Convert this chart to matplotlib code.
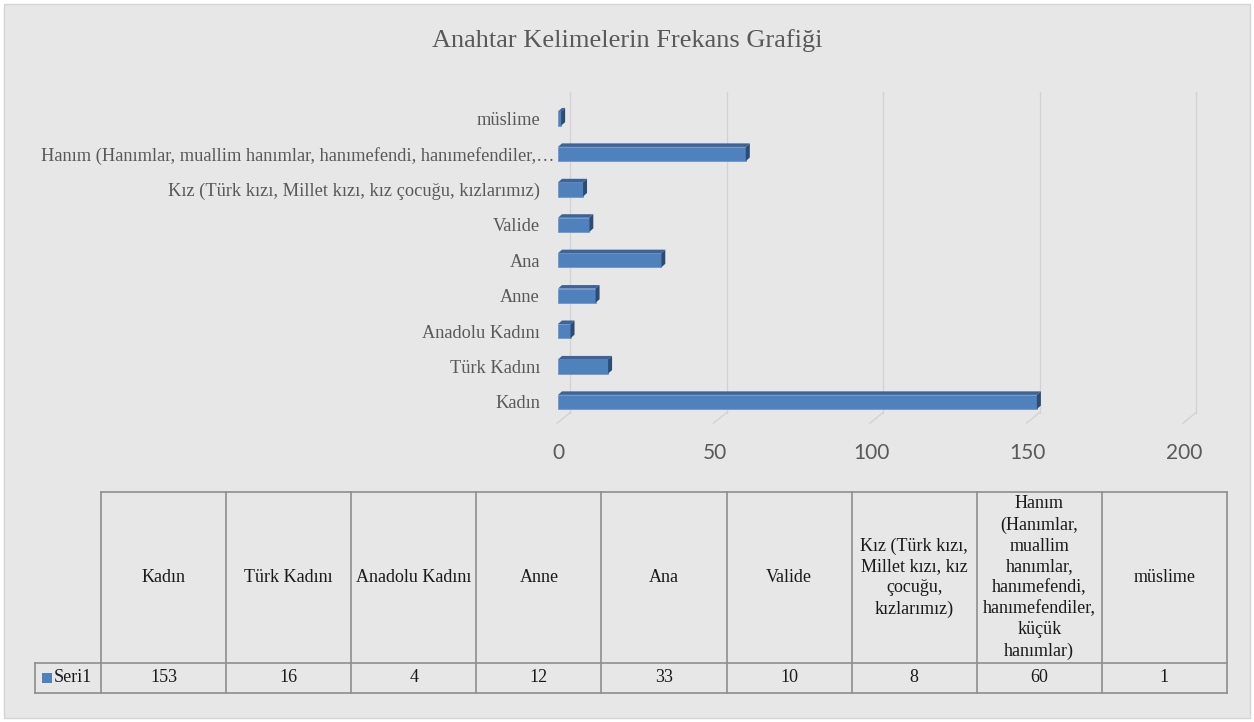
import matplotlib.pyplot as plt
from matplotlib.patches import Rectangle, Polygon
from matplotlib.lines import Line2D
import matplotlib.transforms as mtransforms

# data
categories = ['Kadın', 'Türk Kadını', 'Anadolu Kadını', 'Anne', 'Ana', 'Valide',
              'Kız (Türk kızı, Millet kızı, kız çocuğu, kızlarımız)',
              'Hanım (Hanımlar, muallim hanımlar, hanımefendi, hanımefendiler, küçük hanımlar)',
              'müslime']
values = [153, 16, 4, 12, 33, 10, 8, 60, 1]
axis_labels = ['Kadın', 'Türk Kadını', 'Anadolu Kadını', 'Anne', 'Ana', 'Valide',
               'Kız (Türk kızı, Millet kızı, kız çocuğu, kızlarımız)',
               'Hanım (Hanımlar, muallim hanımlar, hanımefendi, hanımefendiler,…',
               'müslime']
table_headers = ['Kadın', 'Türk Kadını', 'Anadolu Kadını', 'Anne', 'Ana', 'Valide',
                 'Kız (Türk kızı,\nMillet kızı, kız\nçocuğu,\nkızlarımız)',
                 'Hanım\n(Hanımlar,\nmuallim\nhanımlar,\nhanımefendi,\nhanımefendiler,\nküçük\nhanımlar)',
                 'müslime']
series_name = 'Seri1'
xticks = [0, 50, 100, 150, 200]
title = 'Anahtar Kelimelerin Frekans Grafiği'

W, H = 1254, 722
grey = '#595959'
serif = 'Liberation Serif'
front_c, top_c, side_c = '#4f81bd', '#3d6498', '#2c4c74'

fig = plt.figure(figsize=(W / 100, H / 100), dpi=100, facecolor='white')
fig.patches.append(Rectangle((4 / W, 4 / H), (W - 8) / W, (H - 8) / H,
                             transform=fig.transFigure, facecolor='#e7e7e7',
                             edgecolor='#d4d4d4', lw=1, zorder=-10))

fig.text(627 / W, 1 - 41 / H, title, ha='center', va='center',
         family=serif, fontsize=19, color=grey)

# main bar chart
ax = fig.add_axes([558 / W, 1 - 425 / H, 626 / W, 333 / H])
ax.set_facecolor('none')
ax.set_xlim(0, 200)
ax.set_ylim(-0.65, 8.75)
for s in ax.spines.values():
    s.set_visible(False)

back = mtransforms.offset_copy(ax.transData, fig=fig, x=12, y=0, units='dots')
for v in xticks:
    ax.plot([v, v], [-0.30, 8.75], color='#d3d3d3', lw=1, transform=back,
            clip_on=False, zorder=0)
    tail = mtransforms.offset_copy(ax.transData, fig=fig, x=-1, y=0, units='dots')
    x0, y0 = back.transform((v, -0.30))
    x1, y1 = tail.transform((v, -0.60))
    fig.add_artist(Line2D([x0 / W, x1 / W], [y0 / H, y1 / H], color='#d3d3d3', lw=1,
                          transform=fig.transFigure, zorder=0))

h = 0.40
dx = 4 / 3.13
dy = 0.10
for i, v in enumerate(values):
    ax.add_patch(Rectangle((0, i - h / 2), v, h, facecolor=front_c,
                           edgecolor='#6f97c9', lw=0.6, zorder=3))
    ax.add_patch(Polygon([(0, i + h / 2), (v, i + h / 2), (v + dx, i + h / 2 + dy),
                          (dx, i + h / 2 + dy)], closed=True, facecolor=top_c,
                         edgecolor='none', zorder=3))
    ax.add_patch(Polygon([(v, i - h / 2), (v, i + h / 2), (v + dx, i + h / 2 + dy),
                          (v + dx, i - h / 2 + dy)], closed=True, facecolor=side_c,
                         edgecolor='none', zorder=3))

ax.set_yticks(range(len(categories)))
ax.set_yticklabels(axis_labels, family=serif, fontsize=13.2, color=grey)
ax.set_xticks(xticks)
ax.set_xticklabels([str(t) for t in xticks], family='Lato', fontsize=15, color=grey)
ax.tick_params(axis='y', length=0, pad=13)
ax.tick_params(axis='x', length=0, pad=13)
# the truncated long label sits further right in the original
lab = ax.get_yticklabels()[7]
lab.set_transform(lab.get_transform() +
                  mtransforms.ScaledTranslation(15 / 100, 0, fig.dpi_scale_trans))

# data table
tab = fig.add_axes([35 / W, 1 - 693 / H, 1192 / W, 201 / H])
tab.set_facecolor('none')
tab.set_xlim(-66 / 125.1, 9)
tab.set_ylim(0, 201)
tab.axis('off')
lc = '#8e8e8e'
r = 30
n = len(categories)
kw = dict(color=lc, lw=1.2, clip_on=False)
tab.plot([0, n], [201, 201], **kw)
tab.plot([-66 / 125.1, n], [r, r], **kw)
tab.plot([-66 / 125.1, n], [0, 0], **kw)
tab.plot([-66 / 125.1, -66 / 125.1], [0, r], **kw)
for i in range(n + 1):
    tab.plot([i, i], [0, 201], **kw)
for i in range(n):
    tab.text(i + 0.5, (201 + r) / 2, table_headers[i], ha='center', va='center',
             family=serif, fontsize=13, color='#1a1a1a', linespacing=1.3)
    tab.text(i + 0.5, r / 2, str(values[i]), ha='center', va='center',
             family=serif, fontsize=13, color='#1a1a1a')
tab.add_patch(Rectangle((-59 / 125.1, r / 2 - 5), 10 / 125.1, 10, facecolor=front_c,
                        edgecolor='none'))
tab.text(-47 / 125.1, r / 2, series_name, ha='left', va='center',
         family=serif, fontsize=13, color='#1a1a1a')

fig.savefig('out.png', dpi=100, facecolor=fig.get_facecolor())
